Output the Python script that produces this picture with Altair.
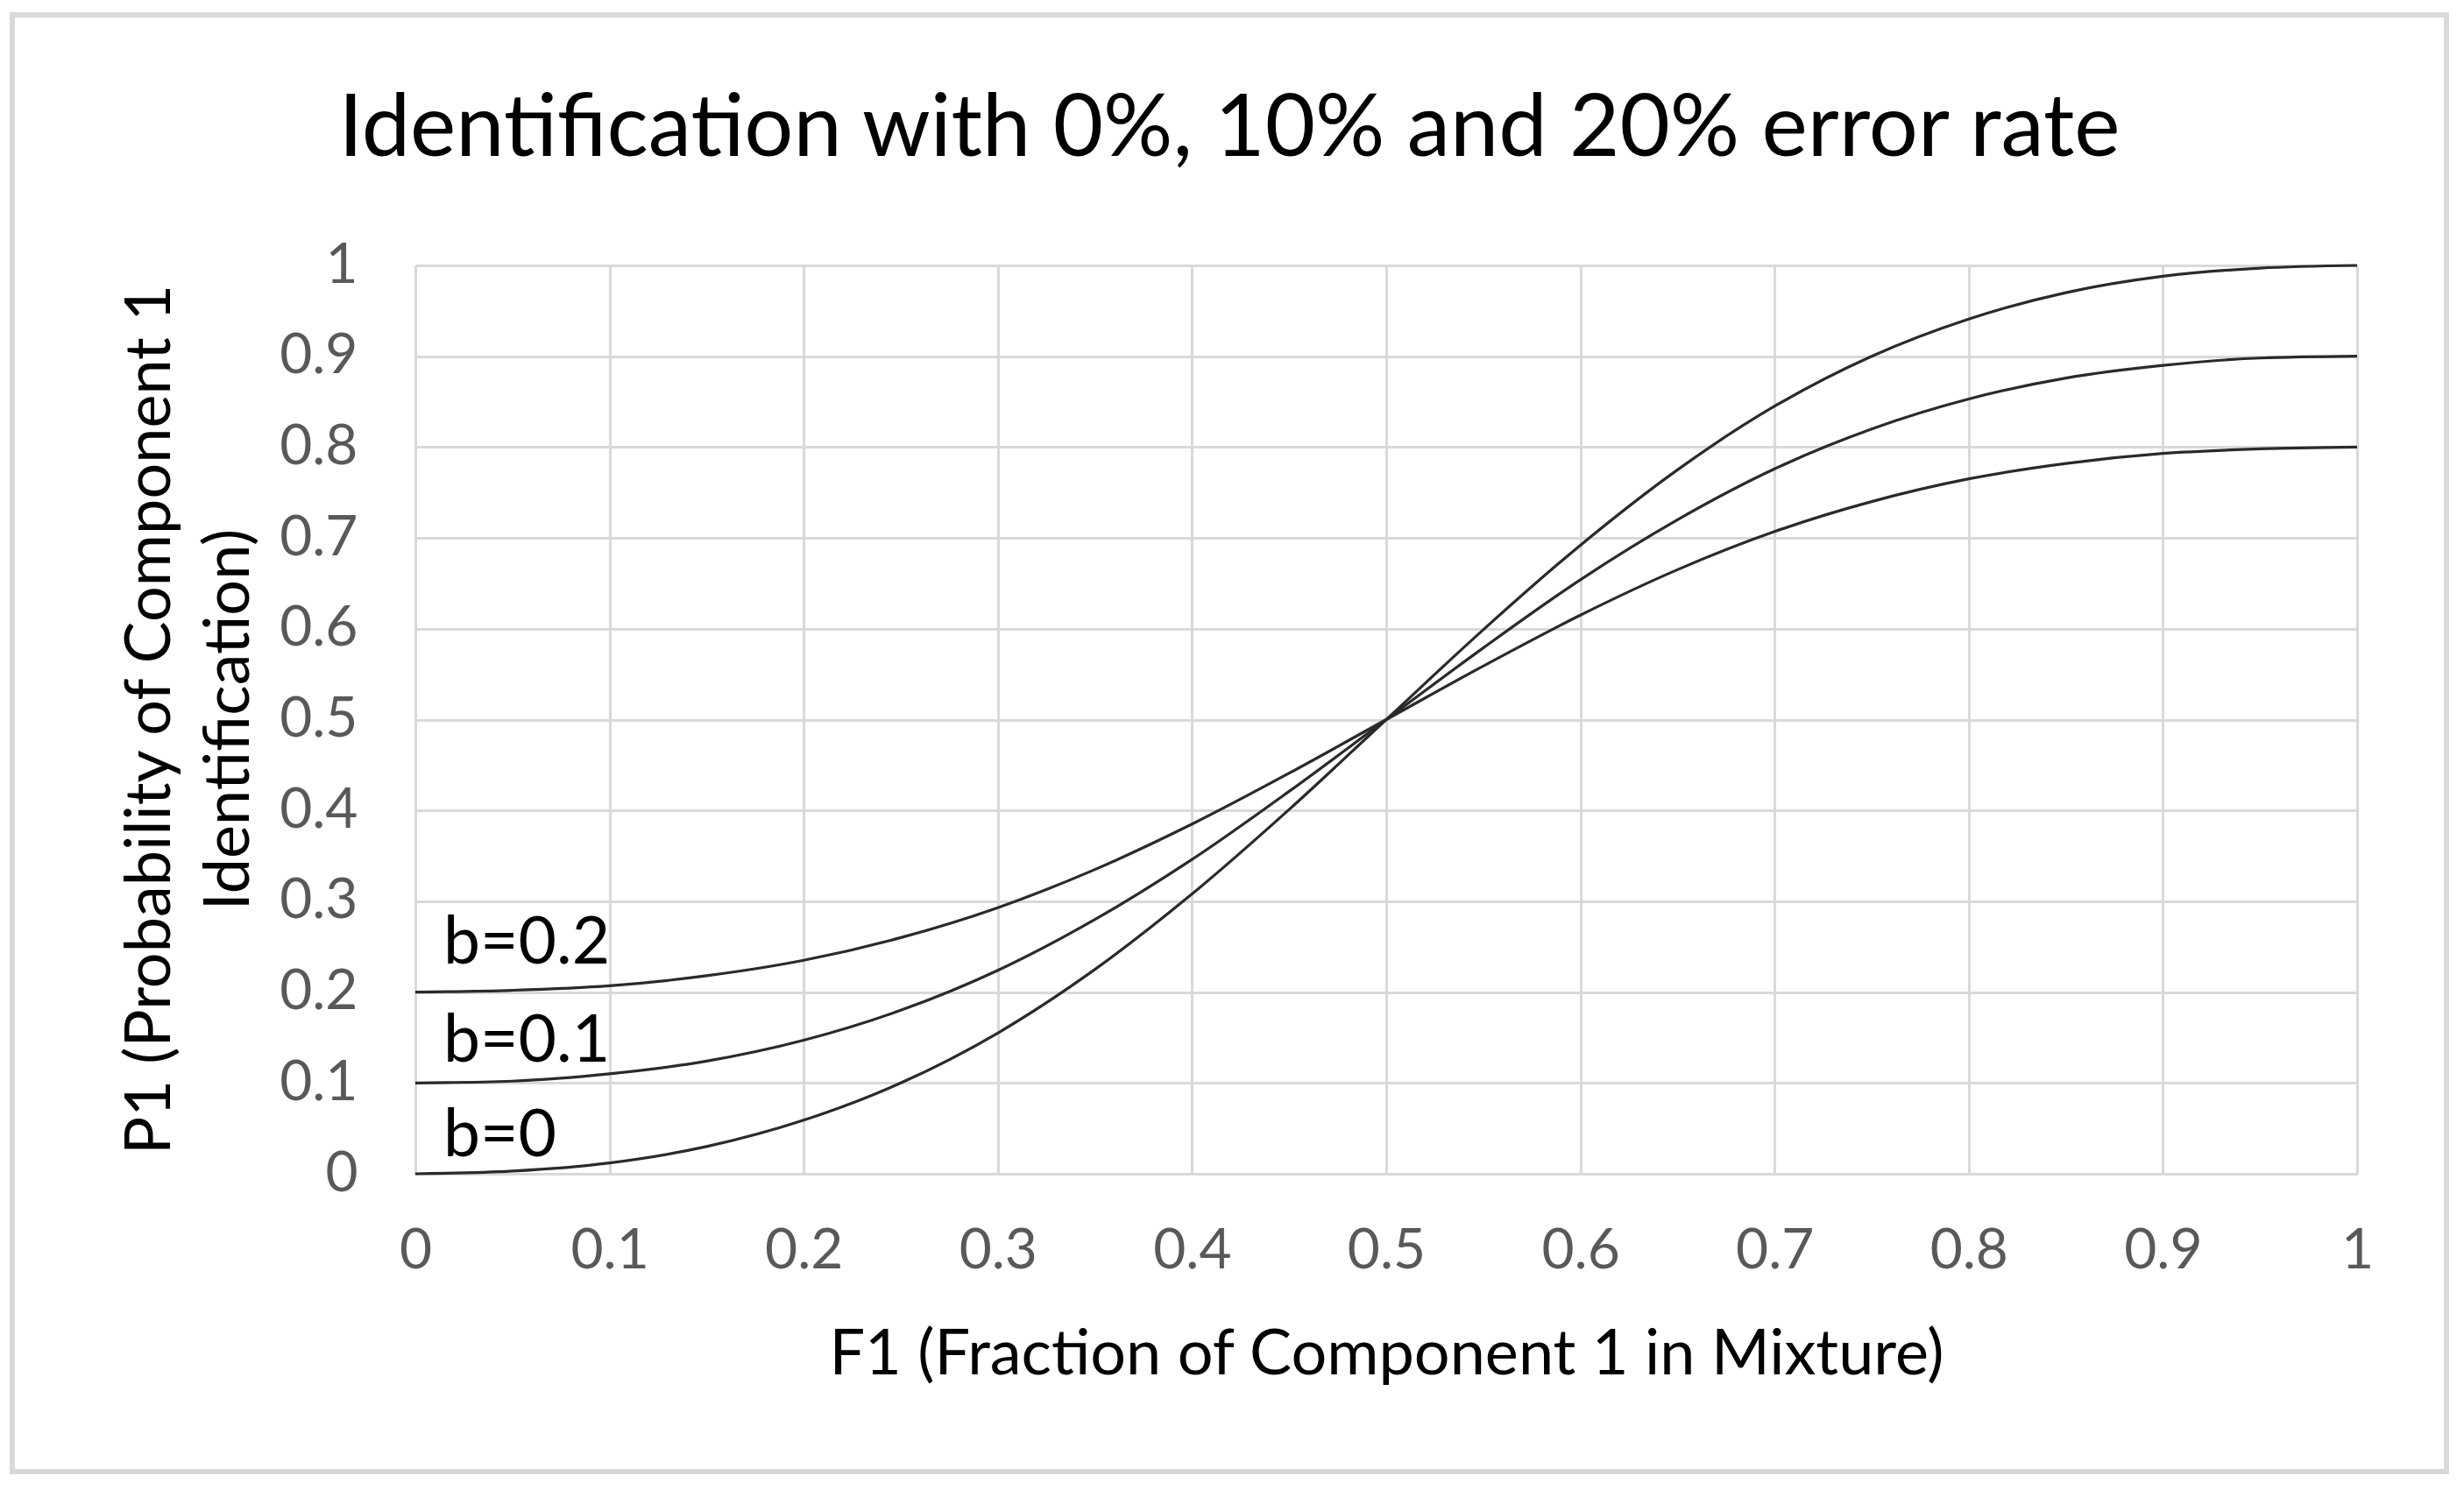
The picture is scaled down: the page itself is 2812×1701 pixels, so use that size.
import altair as alt
import pandas as pd

# Values
f1 = [0.0, 0.05, 0.1, 0.15, 0.2, 0.25, 0.3, 0.35, 0.4, 0.45, 0.5,
      0.55, 0.6, 0.65, 0.7, 0.75, 0.8, 0.85, 0.9, 0.95, 1.0]
p_b0 = [0.0, 0.003, 0.012, 0.030, 0.059, 0.100, 0.155, 0.225, 0.308, 0.401, 0.5,
        0.599, 0.692, 0.775, 0.845, 0.900, 0.941, 0.970, 0.988, 0.997, 1.0]
p_b01 = [0.1, 0.102, 0.110, 0.124, 0.147, 0.180, 0.224, 0.280, 0.346, 0.421, 0.5,
         0.579, 0.654, 0.720, 0.776, 0.820, 0.853, 0.876, 0.890, 0.898, 0.9]
p_b02 = [0.2, 0.202, 0.207, 0.218, 0.235, 0.260, 0.293, 0.335, 0.385, 0.441, 0.5,
         0.559, 0.615, 0.665, 0.707, 0.740, 0.765, 0.782, 0.793, 0.798, 0.8]
series_names = ["b=0", "b=0.1", "b=0.2"]
series_start = [0.0, 0.1, 0.2]
ticks = [0.0, 0.1, 0.2, 0.3, 0.4, 0.5, 0.6, 0.7, 0.8, 0.9, 1.0]
title_text = "Identification with 0%, 10% and 20% error rate"
x_title = "F1 (Fraction of Component 1 in Mixture)"
y_title = ["P1 (Probability of Component 1", "Identification)"]

rows = []
for name, vals in zip(series_names, [p_b0, p_b01, p_b02]):
    for x, y in zip(f1, vals):
        rows.append({"series": name, "F1": x, "P1": y})
df = pd.DataFrame(rows)

FONT = "Lato"
xscale = alt.Scale(domain=[0, 1], nice=False, zero=False)
yscale = alt.Scale(domain=[0, 1], nice=False, zero=False)

lines = alt.Chart(df).mark_line(color="#2a2a2a", strokeWidth=3.2, interpolate="monotone").encode(
    x=alt.X("F1:Q", scale=xscale,
            axis=alt.Axis(values=ticks, format="~g", title=x_title, grid=True,
                          gridColor="#d9d9d9", gridWidth=3, domain=False, ticks=False,
                          labelFont=FONT, labelFontSize=64, labelColor="#595959",
                          labelPadding=56, labelFlush=False, labelOverlap=False,
                          titleFont=FONT, titleFontSize=72,
                          titleFontWeight="normal", titleColor="#000000",
                          titleX=1108, titleY=228, titleBaseline="alphabetic",
                          titleAnchor="middle")),
    y=alt.Y("P1:Q", scale=yscale,
            axis=alt.Axis(values=ticks, format="~g", title=y_title, grid=True,
                          gridColor="#d9d9d9", gridWidth=3, domain=False, ticks=False,
                          labelFont=FONT, labelFontSize=64, labelColor="#595959",
                          labelPadding=66, labelFlush=False, labelOverlap=False,
                          titleFont=FONT, titleFontSize=72,
                          titleFontWeight="normal", titleColor="#000000",
                          titleAngle=-90, titleX=-303, titleY=518,
                          titleBaseline="middle", titleAlign="center",
                          titleLineHeight=90)),
    detail="series:N",
)

layers = [lines]
label_dy = {"b=0": -20, "b=0.1": -24, "b=0.2": -33}
for name, start in zip(series_names, series_start):
    ldf = pd.DataFrame({"F1": [0.0], "P1": [start], "label": [name]})
    layers.append(
        alt.Chart(ldf).mark_text(font=FONT, fontSize=75, color="#000000", align="left",
                                 baseline="alphabetic", dx=32, dy=label_dy[name]).encode(
            x=alt.X("F1:Q", scale=xscale), y=alt.Y("P1:Q", scale=yscale), text="label:N")
    )

deco = pd.DataFrame({"t": [title_text]})
title = alt.Chart(deco).mark_text(font=FONT, fontSize=99, color="#000000", align="center",
                                  baseline="alphabetic").encode(
    x=alt.value(929), y=alt.value(-125), text="t:N")
border = alt.Chart(deco).mark_rect(filled=False, stroke="#d9d9d9", strokeWidth=6).encode(
    x=alt.value(-460), x2=alt.value(2318), y=alt.value(-286), y2=alt.value(1377))

chart = alt.layer(border, *layers, title).properties(
    width=2216, height=1037,
    autosize=alt.AutoSizeParams(type="none"),
    padding={"left": 466, "top": 295, "right": 112, "bottom": 350},
).configure_view(stroke=None).configure(background="white")

chart.save("out.html", embed_options={"renderer": "svg", "actions": False})
